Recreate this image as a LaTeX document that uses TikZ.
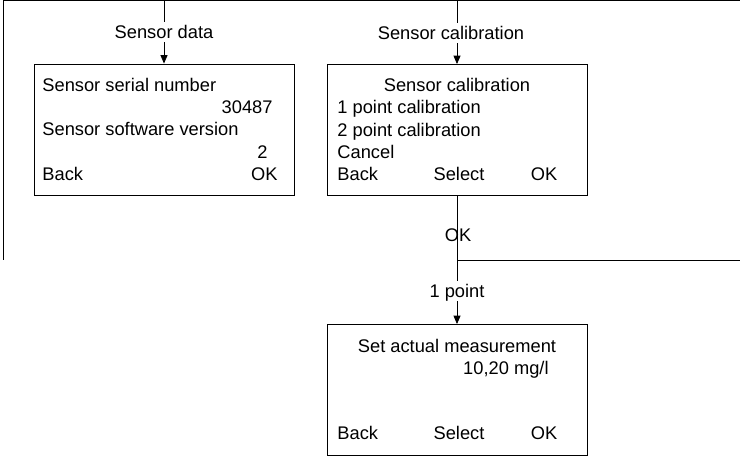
\documentclass[tikz,border=0pt]{standalone}
\usepackage{fontspec}
\setmainfont{Liberation Sans}
\usetikzlibrary{arrows.meta}

\begin{document}
\begin{tikzpicture}[x=0.025cm,y=-0.025cm,line width=0.6pt,>={Triangle[width=5pt,length=6pt]},
  screen/.style={draw,minimum width=6.5cm,minimum height=3.275cm,inner sep=0pt},
  txt/.style={inner sep=0pt,text height=9.3pt,text depth=0pt,font=\fontsize{13pt}{15.6pt}\selectfont},
  lbl/.style={txt,inner sep=2.5pt}]
\useasboundingbox (0,0) rectangle (740,457);
% 顶部总线
\coordinate (lb) at (3,260);
\coordinate (rt) at (740,0.5);
\coordinate (t1) at (164,0.5);
\coordinate (t2) at (457,0.5);
\draw (lb) |- (rt);
% 屏幕框
\node[screen] (data) at (164,129.5) {};
\node[screen] (calib) at (457,130) {};
\node[screen] (setm) at (457,390) {};
% 传感器数据屏
\node[txt,anchor=west] (d1) at (42,85) {Sensor serial number};
\node[txt,anchor=east] (d2) at (273,107) {30487};
\node[txt,anchor=west] (d3) at (42,129) {Sensor software version};
\node[txt,anchor=east] (d4) at (268,152) {2};
\node[txt,anchor=west] (d5) at (42,174) {Back};
\node[txt,anchor=east] (d6) at (278,174) {OK};
% 校准菜单屏
\node[txt] (c1) at (457,85) {Sensor calibration};
\node[txt,anchor=west] (c2) at (337,107) {1 point calibration};
\node[txt,anchor=west] (c3) at (337,130) {2 point calibration};
\node[txt,anchor=west] (c4) at (337,152) {Cancel};
\node[txt,anchor=west] (c5) at (337,174) {Back};
\node[txt] (c6) at (459,174) {Select};
\node[txt] (c7) at (544,174) {OK};
% 设定测量值屏
\node[txt] (s1) at (457,346) {Set actual measurement};
\node[txt,anchor=east] (s2) at (549,368) {10,20 mg/l};
\node[txt,anchor=west] (s3) at (337,433) {Back};
\node[txt] (s4) at (459,433) {Select};
\node[txt] (s5) at (544,433) {OK};
% 菜单项标注
\node[lbl] (ldata) at (164,32) {Sensor data};
\node[lbl] (lcal) at (451,33) {Sensor calibration};
\node[txt] (lok) at (458,235) {OK};
\node[lbl] (lpt) at (457,291) {1 point};
% 连线
\draw (t1) -- (ldata.north);
\draw[->] (ldata.south) -- (data.north);
\draw (t2) -- (t2 |- lcal.north);
\draw[->] (t2 |- lcal.south) -- (calib.north);
\draw (calib.south) -- (lpt.north);
\draw[->] (lpt.south) -- (setm.north);
% 右侧分支
\coordinate (br) at (457,260);
\coordinate (re) at (740,260);
\draw (br) -- (re);
\end{tikzpicture}
\end{document}
